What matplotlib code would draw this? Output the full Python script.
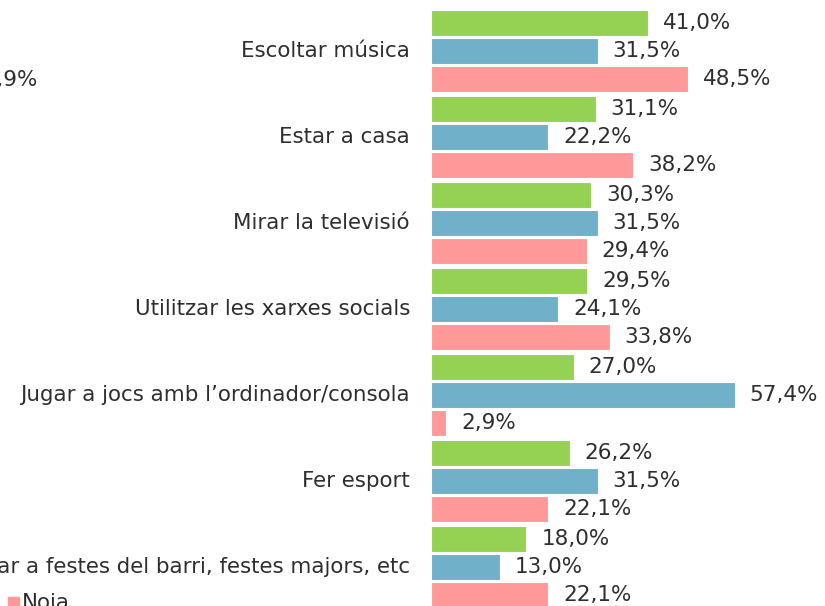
import matplotlib
matplotlib.use('Agg')
import matplotlib.pyplot as plt
import numpy as np

categories = [
    "Escoltar música",
    "Estar a casa",
    "Mirar la televisió",
    "Utilitzar les xarxes socials",
    "Jugar a jocs amb l\u2019ordinador/consola",
    "Fer esport",
    "Anar a festes del barri, festes majors, etc",
]
total = [41.0, 31.1, 30.3, 29.5, 27.0, 26.2, 18.0]
noi = [31.5, 22.2, 31.5, 24.1, 57.4, 31.5, 13.0]
noia = [48.5, 38.2, 29.4, 33.8, 2.9, 22.1, 22.1]

series = [(total, "#95d152"), (noi, "#70b0c8"), (noia, "#ff9999")]

W, H = 825, 606
fig = plt.figure(figsize=(W / 100, H / 100), dpi=100)
ax = fig.add_axes([0, 0, 1, 1])

px_per_unit = 5.29
zero_px = 431
ax.set_xlim(-zero_px / px_per_unit, (W - zero_px) / px_per_unit)
pitch = 86.0
ax.set_ylim((H - 51) / pitch, -51 / pitch)
ax.axis("off")

y = np.arange(len(categories))
bar_h = 26 / pitch
step = 28 / pitch
text_color = "#2e2e2e"
fs = 15.5

for k, (vals, col) in enumerate(series):
    pos = y + (k - 1) * step
    ax.barh(pos, vals, height=bar_h, color=col, edgecolor="white", linewidth=0.8)
    for p, v in zip(pos, vals):
        ax.text(v + 15 / px_per_unit, p, f"{v:.1f}%".replace(".", ","),
                va="center", ha="left", fontsize=fs, color=text_color)

for yi, cat in zip(y, categories):
    ax.text(-21 / px_per_unit, yi, cat, va="center", ha="right",
            fontsize=15.4, color=text_color)

# remnants of neighbouring chart / legend cut by the frame
fig.text(38 / W, 1 - 80 / H, "16,9%", ha="right", va="center",
         fontsize=fs, color=text_color)
fig.patches.append(plt.Rectangle((8 / W, 0), 11 / W, 9 / H,
                                 transform=fig.transFigure,
                                 color="#ff9999"))
fig.text(22 / W, 1 - 603 / H, "Noia", ha="left", va="center",
         fontsize=15.4, color=text_color)

fig.savefig("out.png", dpi=100)
